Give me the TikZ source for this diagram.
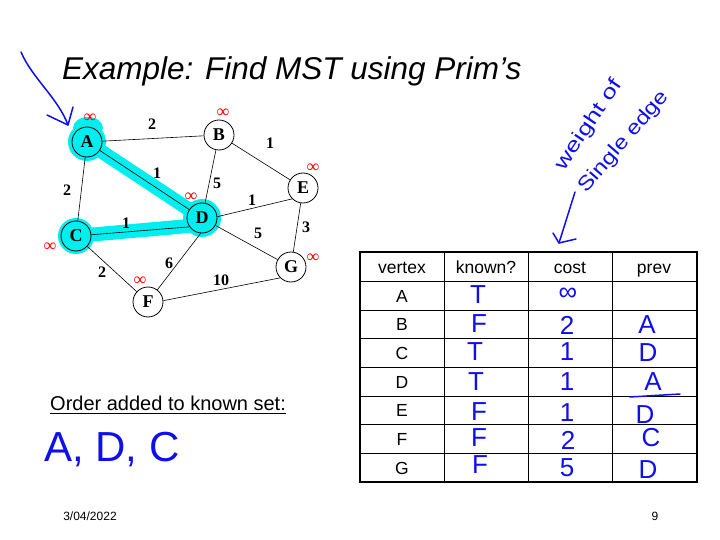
\documentclass[tikz,border=0pt]{standalone}
\usepackage{fontspec}
\setmainfont{Liberation Sans}
\newfontfamily\serifb{Liberation Serif}
\usetikzlibrary{arrows.meta}
\definecolor{hilite}{RGB}{0,238,238}
\definecolor{ink}{RGB}{15,15,235}
\definecolor{infred}{RGB}{255,0,0}
\tikzset{
  vtx/.style={circle,draw=black,line width=0.8pt,fill=white,minimum size=30pt,inner sep=0pt,font=\serifb\bfseries\fontsize{18}{18}\selectfont},
  vtxk/.style={vtx,fill=hilite},
  edge/.style={draw=black,line width=0.6pt},
  wlab/.style={font=\serifb\bfseries\fontsize{16}{16}\selectfont,inner sep=0pt},
  inf/.style={text=infred,font=\serifb\fontsize{18}{18}\selectfont,inner sep=0pt},
  hl/.style={draw=hilite,line width=14pt,line cap=round},
  hand/.style={text=ink,font=\fontsize{26}{26}\selectfont,inner sep=0pt},
  hdr/.style={font=\fontsize{17.5}{17.5}\selectfont,inner sep=0pt,anchor=base},
  pen/.style={draw=ink,line width=1.5pt,line cap=round,line join=round},
  note/.style={text=ink,font=\fontsize{20}{20}\selectfont,inner sep=0pt},
}
\begin{document}
\begin{tikzpicture}[x=1pt,y=-1pt]
\useasboundingbox[fill=white] (0,0) rectangle (720,540);

% title
\node[anchor=base west,inner sep=0pt,font=\itshape\fontsize{31.5}{31.5}\selectfont] (title) at (62,80) {Example: Find MST using Prim’s};

% highlight
\coordinate (hA) at (87,142);
\coordinate (hC) at (76,236);
\coordinate (hD) at (202,218);
\coordinate (hDl) at (200,225);
\draw[hl] (hA) -- (hD);
\draw[hl] (hC) -- (hDl);
\fill[hilite] (hA) circle (19);
\fill[hilite] (hC) circle (18);
\fill[hilite] (hD) circle (19);
\fill[hilite] (88,128) ellipse (15 and 11);

% nodes
\node[vtxk] (A) at (87,142) {A};
\node[vtx]  (B) at (219,135) {B};
\node[vtx]  (E) at (303,188) {E};
\node[vtxk] (D) at (202,218) {D};
\node[vtxk] (C) at (76,236) {C};
\node[vtx]  (G) at (291,267) {G};
\node[vtx]  (F) at (148,302) {F};

% edges
\draw[edge] (A) -- (B);
\draw[edge] (B) -- (E);
\draw[edge] (A) -- (C);
\draw[edge] (A) -- (D);
\draw[edge] (B) -- (D);
\draw[edge] (D.5) -- (E.225);
\draw[edge] (C) -- (D.215);
\draw[edge] (D) -- (G);
\draw[edge] (E) -- (G);
\draw[edge] (C) -- (F);
\draw[edge] (D.-95) -- (F);
\draw[edge] (F.5) -- (G.225);

% weights
\node[wlab] (wAB) at (152,124) {2};
\node[wlab] (wBE) at (270,143) {1};
\node[wlab] (wAC) at (67,190) {2};
\node[wlab] (wAD) at (157,173) {1};
\node[wlab] (wBD) at (217,183) {5};
\node[wlab] (wDE) at (252,200) {1};
\node[wlab] (wCD) at (126,223) {1};
\node[wlab] (wDG) at (258,233) {5};
\node[wlab] (wEG) at (306,227) {3};
\node[wlab] (wCF) at (102,272) {2};
\node[wlab] (wDF) at (169,263) {6};
\node[wlab] (wFG) at (221,280) {10};

% infinities
\node[inf] (iA) at (90,118) {∞};
\node[inf] (iB) at (223,113) {∞};
\node[inf] (iE) at (313,168) {∞};
\node[inf] (iD) at (191,197) {∞};
\node[inf] (iC) at (50,247) {∞};
\node[inf] (iG) at (313,258) {∞};
\node[inf] (iF) at (140,281) {∞};

% handwritten arrow to A
\coordinate (arS) at (21,52);
\coordinate (arT) at (68,125);
\draw[pen] (arS) .. controls (32,78) and (58,98) .. (arT);
\draw[pen] (47,115) -- (arT) -- (73,107);

% table
\foreach \y in {281,310,338,367,396,424,453} \draw[line width=0.8pt] (360,\y) -- (697,\y);
\foreach \x in {444,528,612} \draw[line width=0.8pt] (\x,252) -- (\x,482);
\draw[line width=1.6pt] (360,252) rectangle (697,482);

\node[hdr] (h1) at (402,273) {vertex};
\node[hdr] (h2) at (486,273) {known?};
\node[hdr] (h3) at (570,273) {cost};
\node[hdr] (h4) at (654,273) {prev};
\node[hdr] (rA) at (402,302) {A};
\node[hdr] (rB) at (402,330.5) {B};
\node[hdr] (rC) at (402,359) {C};
\node[hdr] (rD) at (402,388) {D};
\node[hdr] (rE) at (402,416.5) {E};
\node[hdr] (rF) at (402,445) {F};
\node[hdr] (rG) at (402,474) {G};

% known
\node[hand] (kA) at (478,295) {T};
\node[hand] (kB) at (479,324) {F};
\node[hand] (kC) at (475,352) {T};
\node[hand] (kD) at (476,382) {T};
\node[hand] (kE) at (479,412) {F};
\node[hand] (kF) at (479,438) {F};
\node[hand] (kG) at (480,465) {F};
% cost
\node[hand] (cA) at (568,294) {∞};
\node[hand] (cB) at (567,325) {2};
\node[hand] (cC) at (567,352) {1};
\node[hand] (cD) at (567,382) {1};
\node[hand] (cE) at (567,413) {1};
\node[hand] (cF) at (568,440) {2};
\node[hand] (cG) at (567,468) {5};
% prev
\node[hand] (pB) at (647,325) {A};
\node[hand] (pC) at (648,353) {D};
\node[hand] (pD) at (653,382) {A};
\node[hand] (pE) at (645,415) {D};
\node[hand] (pF) at (651,438) {C};
\node[hand] (pG) at (648,470) {D};
\coordinate (ulS) at (630,397);
\coordinate (ulT) at (680,394);
\draw[pen] (ulS) -- (ulT);

% weight of single edge
\node[note,rotate=56] (wt1) at (589,125) {\scalebox{1.3}[1]{weight of}};
\node[note,rotate=49] (wt2) at (624,142) {\scalebox{1.2}[1]{Single edge}};
\coordinate (a2S) at (575,192);
\coordinate (a2T) at (559,243);
\draw[pen] (a2S) -- (a2T);
\draw[pen] (553,233) -- (a2T) -- (576,239);

% order added
\node[anchor=base west,inner sep=0pt,font=\fontsize{20}{20}\selectfont] (ord) at (50,410) {Order added to known set:};
\draw[line width=0.9pt] ([yshift=-3.5]ord.base west) -- ([yshift=-3.5]ord.base east);
\node[hand,font=\fontsize{42}{42}\selectfont,anchor=base west] (seq) at (44,461) {A, D, C};

% footer
\node[inner sep=0pt,font=\fontsize{12}{12}\selectfont] (date) at (90,516) {3/04/2022};
\node[inner sep=0pt,font=\fontsize{12}{12}\selectfont] (pg) at (655,516) {9};
\end{tikzpicture}
\end{document}
